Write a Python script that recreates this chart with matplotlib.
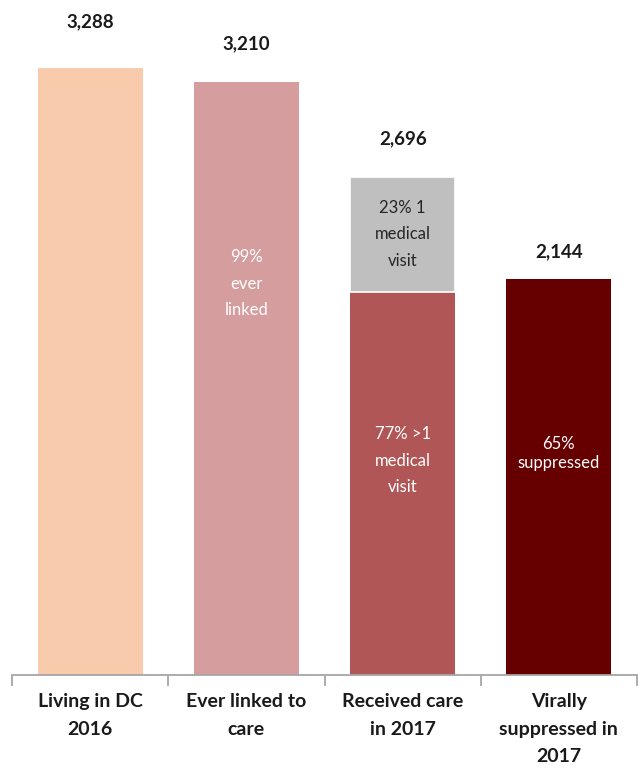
import matplotlib
matplotlib.use("Agg")
import matplotlib.pyplot as plt

plt.rcParams['font.family'] = ['Lato', 'DejaVu Sans']

categories = ["Living in DC\n2016", "Ever linked to\ncare", "Received care\nin 2017", "Virally\nsuppressed in\n2017"]
totals = [3288, 3210, 2696, 2144]
value_labels = ["3,288", "3,210", "2,696", "2,144"]
care_multi_visit = 2076   # >1 medical visit
care_one_visit = 620      # 1 medical visit
inner_texts = ["", "99%\never\nlinked", "77% >1\nmedical\nvisit", "65%\nsuppressed"]
gray_text = "23% 1\nmedical\nvisit"

colors = ["#F8CBAD", "#D59D9E", "#B05656", "#660000"]
gray = "#BFBFBF"

fig = plt.figure(figsize=(6.39, 7.69), dpi=100)
ax = fig.add_axes([12/639, 94/769, 625/639, 665/769])

x = list(range(len(categories)))
w = 0.672

# plain bars for living, linked, suppressed
for i in (0, 1, 3):
    ax.bar(x[i], totals[i], width=w, color=colors[i], edgecolor="none")
# stacked bar for received care
ax.bar(x[2], care_multi_visit, width=w, color=colors[2], edgecolor="none")
ax.bar(x[2], care_one_visit, bottom=care_multi_visit, width=w, color=gray,
       edgecolor="white", linewidth=1.2)

ax.set_xlim(-0.5, 3.5)
ax.set_ylim(0, 3602)
for s in ("top", "right", "left"):
    ax.spines[s].set_visible(False)
ax.spines["bottom"].set_color("#A6A6A6")
ax.spines["bottom"].set_linewidth(1.3)
ax.set_yticks([])
ax.set_xticks([-0.5, 0.5, 1.5, 2.5, 3.5])
ax.set_xticklabels([])
ax.tick_params(axis="x", direction="out", length=8, width=1.3, color="#A6A6A6")

# category labels
for i, c in enumerate(categories):
    ax.annotate(c, xy=(x[i], 0), xycoords="data", xytext=(0, -13),
                textcoords="offset points", ha="center", va="top",
                fontsize=14, fontweight="bold", color="#1a1a1a", linespacing=1.75)

# value labels above bars
label_gaps = [33, 28, 28, 20]
for i, v in enumerate(totals):
    ax.annotate(value_labels[i], xy=(x[i], v), xytext=(0, label_gaps[i]),
                textcoords="offset points", ha="center", va="center",
                fontsize=13.5, fontweight="bold", color="#1a1a1a")

# text inside bars
ax.text(x[1], 2120, inner_texts[1], ha="center", va="center", color="white",
        fontsize=12, linespacing=1.8)
ax.text(x[2], 1160, inner_texts[2], ha="center", va="center", color="white",
        fontsize=12, linespacing=1.8)
ax.text(x[3], 1200, inner_texts[3], ha="center", va="center", color="white",
        fontsize=12, linespacing=1.3)
ax.text(x[2], care_multi_visit + care_one_visit / 2, gray_text, ha="center",
        va="center", color="#262626", fontsize=12, linespacing=1.8)

fig.savefig("out.png", dpi=100)
